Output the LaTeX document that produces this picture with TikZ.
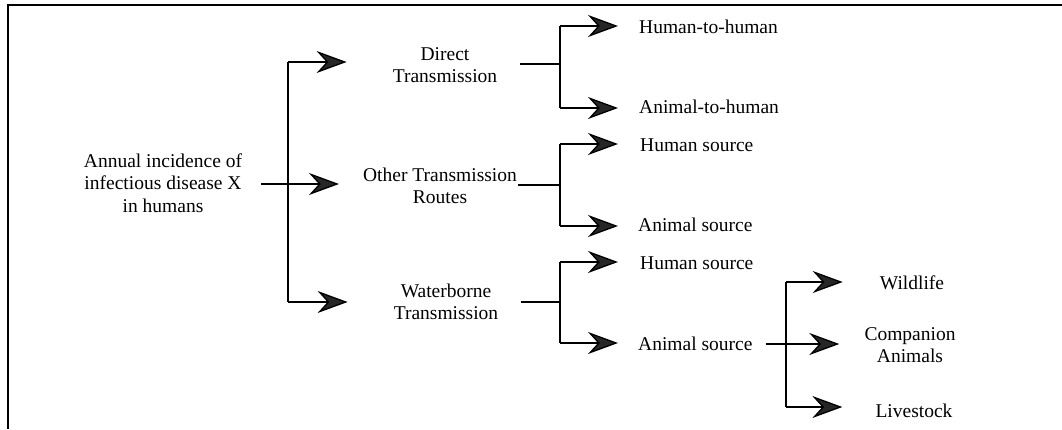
\documentclass[tikz,border=0pt]{standalone}
\usepackage{fontspec}
\setmainfont{Liberation Serif}
\usetikzlibrary{arrows.meta}
\tikzset{
  lbl/.style={inner sep=0pt, align=center, font=\fontsize{19.5bp}{22.5bp}\selectfont},
  lblw/.style={lbl, anchor=west},
  conn/.style={line width=1.3bp, black},
  arr/.style={conn, -{Stealth[length=30bp, width=22bp, inset=10bp, fill=black!85]}},
  frame/.style={line width=1.8bp, black}
}
\begin{document}
\begin{tikzpicture}[x=1bp, y=-1bp]
\useasboundingbox (0,0) rectangle (1062,429);
% frame
\draw[frame] (1062,5) -- (8,5) -- (8,429);
% nodes
\node[lbl] (root) at (163,183) {Annual incidence of\\infectious disease X\\in humans};
\node[lbl] (direct) at (445,65) {Direct\\Transmission};
\node[lbl] (other) at (440,186) {Other Transmission\\Routes};
\node[lbl] (water) at (446,302) {Waterborne\\Transmission};
\node[lblw] (hh) at (639,27) {Human-to-human};
\node[lblw] (ah) at (639,107) {Animal-to-human};
\node[lblw] (hs1) at (640,145) {Human source};
\node[lblw] (as1) at (638,225) {Animal source};
\node[lblw] (hs2) at (640,263) {Human source};
\node[lblw] (as2) at (638,344) {Animal source};
\node[lbl] (wild) at (912,283) {Wildlife};
\node[lbl] (comp) at (910,345) {Companion\\Animals};
\node[lbl] (live) at (914,411) {Livestock};
% junctions
\coordinate (a1) at (288,62);
\coordinate (a2) at (288,302);
\coordinate (b1) at (560,26);
\coordinate (b2) at (560,108);
\coordinate (c1) at (560,144);
\coordinate (c2) at (560,226);
\coordinate (d1) at (560,262);
\coordinate (d2) at (560,343);
\coordinate (e1) at (786,282);
\coordinate (e2) at (786,407);
% root level
\draw[conn] (a1) -- (a2);
\draw[arr, shorten <=19bp, shorten >=24bp] (root.east |- 0,184) -- (other.west |- 0,184);
\draw[arr, shorten >=46bp] (a1) -- (a1 -| direct.west);
\draw[arr, shorten >=46bp] (a2) -- (a2 -| water.west);
% direct
\draw[conn, shorten <=23bp] (direct.east |- 0,64) -- (b1 |- 0,64);
\draw[conn] (b1) -- (b2);
\draw[arr, shorten >=21bp] (b1) -- (b1 -| hh.west);
\draw[arr, shorten >=21bp] (b2) -- (b2 -| ah.west);
% other
\draw[conn, shorten <=1bp] (other.east |- 0,185) -- (c1 |- 0,185);
\draw[conn] (c1) -- (c2);
\draw[arr, shorten >=22bp] (c1) -- (c1 -| hs1.west);
\draw[arr, shorten >=20bp] (c2) -- (c2 -| as1.west);
% waterborne
\draw[conn, shorten <=23bp] (water.east |- 0,302) -- (d1 |- 0,302);
\draw[conn] (d1) -- (d2);
\draw[arr, shorten >=22bp] (d1) -- (d1 -| hs2.west);
\draw[arr, shorten >=20bp] (d2) -- (d2 -| as2.west);
% animal source
\draw[conn, shorten <=13bp] (as2.east |- 0,344) -- (e1 |- 0,344);
\draw[conn] (e1) -- (e2);
\draw[arr, shorten >=25bp] (e1 |- 0,344) -- (comp.west |- 0,344);
\draw[arr, shorten >=37bp] (e1) -- (e1 -| wild.west);
\draw[arr, shorten >=33bp] (e2) -- (e2 -| live.west);
\end{tikzpicture}
\end{document}
